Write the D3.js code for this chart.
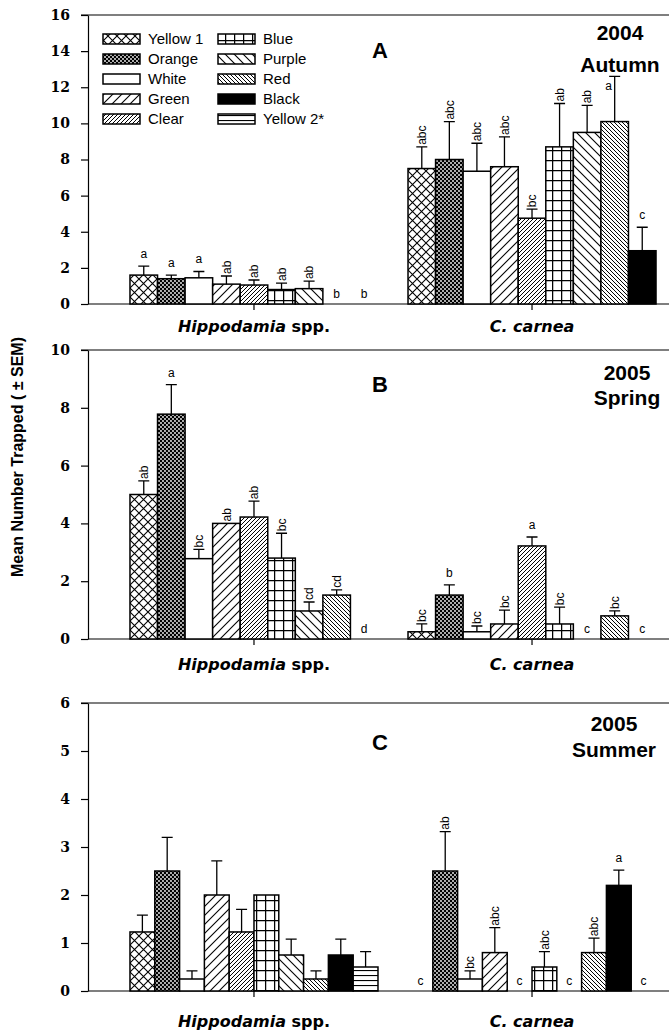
<!DOCTYPE html>
<html>
<head>
<meta charset="utf-8">
<script src="https://cdn.jsdelivr.net/npm/d3@7"></script>
<style>
body{margin:0;background:#fff;}
</style>
</head>
<body>
<div id="plotarea"></div>
<script>
// trap colours, "Yellow 2*" was only used in summer 2005
var colors = ["Yellow 1","Orange","White","Green","Clear","Blue","Purple","Red","Black","Yellow 2*"];
var groups = ["Hippodamia spp.","C. carnea"];

// A - 2004 autumn (9 colours)
var autumnHippoMean = [1.6,1.4,1.45,1.1,1.05,0.8,0.85,0,0];
var autumnHippoSem = [0.5,0.2,0.35,0.45,0.28,0.36,0.42,0,0];
var autumnHippoLetters = ["a","a","a","ab","ab","ab","ab","b","b"];
var autumnCarneaMean = [7.5,8.0,7.35,7.6,4.75,8.7,9.5,10.1,2.95];
var autumnCarneaSem = [1.2,2.1,1.55,1.65,0.5,2.4,1.5,2.5,1.3];
var autumnCarneaLetters = ["abc","abc","abc","abc","bc","ab","ab","a","c"];

// B - 2005 spring (9 colours)
var springHippoMean = [5.0,7.78,2.78,4.0,4.22,2.8,0.97,1.52,0];
var springHippoSem = [0.47,1.02,0.32,0,0.55,0.86,0.31,0.18,0];
var springHippoLetters = ["ab","a","bc","ab","ab","bc","cd","cd","d"];
var springCarneaMean = [0.25,1.52,0.25,0.52,3.22,0.52,0,0.8,0];
var springCarneaSem = [0.27,0.35,0.2,0.48,0.31,0.58,0,0.17,0];
var springCarneaLetters = ["bc","b","bc","bc","a","bc","c","bc","c"];

// C - 2005 summer (10 colours)
var summerHippoMean = [1.23,2.5,0.25,2.0,1.23,2.0,0.75,0.25,0.75,0.5];
var summerHippoSem = [0.35,0.7,0.17,0.71,0.47,0,0.33,0.17,0.33,0.32];
var summerHippoLetters = ["","","","","","","","","",""];
var summerCarneaMean = [0,2.5,0.25,0.8,0,0.5,0,0.8,2.2,0];
var summerCarneaSem = [0,0.82,0.17,0.52,0,0.32,0,0.3,0.32,0];
var summerCarneaLetters = ["c","ab","bc","abc","c","abc","c","abc","a","c"];

var width = 669, height = 1036;
var axisX = 88;
var sans = "'Liberation Sans', Arial, sans-serif";

var svg = d3.select("#plotarea").append("svg")
    .attr("width", width)
    .attr("height", height);
var defs = svg.append("defs");

// hatch fills, one per trap colour
function addPattern(id, w, h, bg, draw){
  var pat = defs.append("pattern").attr("id", id)
    .attr("patternUnits","userSpaceOnUse")
    .attr("width", w).attr("height", h);
  pat.append("rect").attr("width", w).attr("height", h).attr("fill", bg);
  draw(pat);
}
addPattern("p0", 9, 9, "#fff", function(p){
  p.append("path").attr("d","M0,0L9,9M9,0L0,9").attr("stroke","#000").attr("stroke-width",1.1);
});
addPattern("p1", 4, 4, "#000", function(p){
  p.append("circle").attr("cx",1).attr("cy",1).attr("r",0.9).attr("fill","#fff");
  p.append("circle").attr("cx",3).attr("cy",3).attr("r",0.9).attr("fill","#fff");
});
addPattern("p3", 9, 9, "#fff", function(p){
  p.append("path").attr("d","M0,9L9,0M-2,2L2,-2M7,11L11,7").attr("stroke","#000").attr("stroke-width",1.1);
});
addPattern("p4", 4, 4, "#fff", function(p){
  p.append("path").attr("d","M0,4L4,0M-1,1L1,-1M3,5L5,3").attr("stroke","#000").attr("stroke-width",1);
});
addPattern("p5", 9, 10, "#fff", function(p){
  p.append("path").attr("d","M0.5,0V10M0,0.5H9").attr("stroke","#000").attr("stroke-width",1.5);
});
addPattern("p6", 9, 9, "#fff", function(p){
  p.append("path").attr("d","M0,0L9,9M-2,7L2,11M7,-2L11,2").attr("stroke","#000").attr("stroke-width",1.1);
});
addPattern("p7", 4, 4, "#fff", function(p){
  p.append("path").attr("d","M0,0L4,4M-1,3L1,5M3,-1L5,1").attr("stroke","#000").attr("stroke-width",1);
});
addPattern("p9", 5, 5, "#fff", function(p){
  p.append("path").attr("d","M0,0.5H5").attr("stroke","#000").attr("stroke-width",1.2);
});
var fills = ["url(#p0)","url(#p1)","#fff","url(#p3)","url(#p4)","url(#p5)","url(#p6)","url(#p7)","#000","url(#p9)"];

var panels = [
  {letter:"A", season:["2004","Autumn"], top:15, bottom:304, max:16, step:2, n:9,
   mean:[autumnHippoMean, autumnCarneaMean], sem:[autumnHippoSem, autumnCarneaSem],
   letters:[autumnHippoLetters, autumnCarneaLetters], labelY:332, letterY:58, seasonY:[40,72], seasonX:620},
  {letter:"B", season:["2005","Spring"], top:350, bottom:639, max:10, step:2, n:9,
   mean:[springHippoMean, springCarneaMean], sem:[springHippoSem, springCarneaSem],
   letters:[springHippoLetters, springCarneaLetters], labelY:670, letterY:392, seasonY:[380,405], seasonX:627},
  {letter:"C", season:["2005","Summer"], top:703, bottom:991, max:6, step:1, n:10,
   mean:[summerHippoMean, summerCarneaMean], sem:[summerHippoSem, summerCarneaSem],
   letters:[summerHippoLetters, summerCarneaLetters], labelY:1027, letterY:750, seasonY:[731,757], seasonX:614}
];

// group positions along x
var x_group = d3.scaleBand().domain(groups)
  .range([axisX, 698])
  .paddingInner(0.108)
  .paddingOuter(0.151);

function letterText(sel){
  return sel.attr("font-family", sans).attr("font-size",12).attr("fill","#000");
}

panels.forEach(function(p){
  var y = d3.scaleLinear().domain([0, p.max]).range([p.bottom, p.top]);
  var cols = colors.slice(0, p.n);
  var x_bar = d3.scaleBand().domain(cols).range([0, x_group.bandwidth()]);
  var g = svg.append("g");
  // area taken by the season text, letters are kept out of it
  var seasonBox = {x0:p.seasonX-45, x1:p.seasonX+45, y0:p.seasonY[0]-17, y1:p.seasonY[1]};

  // y axis
  var yAx = g.append("g")
    .attr("transform","translate(" + axisX + ",0)")
    .call(d3.axisLeft(y)
      .tickValues(d3.range(0, p.max + p.step/2, p.step))
      .tickSize(7).tickSizeOuter(0).tickPadding(11)
      .tickFormat(d3.format("d")));
  yAx.selectAll("path,line").attr("stroke","#000").attr("stroke-width",1.2);
  yAx.selectAll("text")
    .attr("font-family","'DejaVu Serif', serif")
    .attr("font-weight","bold")
    .attr("font-size",14)
    .attr("fill","#000");

  // frame top + baseline
  g.append("line").attr("x1",axisX-7).attr("x2",width)
    .attr("y1",y(p.max)).attr("y2",y(p.max))
    .attr("stroke","#000").attr("stroke-width",1.2);
  g.append("line").attr("x1",axisX).attr("x2",width)
    .attr("y1",y(0)).attr("y2",y(0))
    .attr("stroke","#000").attr("stroke-width",1.2);

  // group tick marks
  var xAx = g.append("g")
    .attr("transform","translate(0," + y(0) + ")")
    .call(d3.axisBottom(x_group).tickSize(6).tickSizeOuter(0).tickFormat(""));
  xAx.select(".domain").remove();
  xAx.selectAll("line").attr("stroke","#000").attr("stroke-width",1.2);

  groups.forEach(function(grp, gi){
    var arr = [];
    cols.forEach(function(c, i){
      arr.push({color:c, idx:i, value:p.mean[gi][i], sem:p.sem[gi][i], letter:p.letters[gi][i]});
    });
    var gx = x_group(grp);
    var gg = g.append("g").attr("transform","translate(" + gx + ",0)");
    var bw = x_bar.bandwidth();

    var withBar = arr.filter(function(d){ return d.value > 0; });
    gg.selectAll(".bar")
      .data(withBar)
      .enter().append("rect")
      .attr("class","bar")
      .attr("x", function(d){ return x_bar(d.color); })
      .attr("y", function(d){ return y(d.value); })
      .attr("width", bw)
      .attr("height", function(d){ return y(0) - y(d.value); })
      .attr("fill", function(d){ return fills[d.idx]; })
      .attr("stroke","#000")
      .attr("stroke-width",1.5);

    // upper error bars
    var withErr = withBar.filter(function(d){ return d.sem > 0; });
    gg.selectAll(".err")
      .data(withErr)
      .enter().append("path")
      .attr("class","err")
      .attr("d", function(d){
        var cx = x_bar(d.color) + bw/2;
        var t = y(d.value + d.sem);
        return "M" + cx + "," + y(d.value) + "V" + t + "M" + (cx-5.5) + "," + t + "H" + (cx+5.5);
      })
      .attr("stroke","#000").attr("stroke-width",1.3).attr("fill","none");

    // significance letters
    arr.forEach(function(d){
      if (!d.letter) return;
      var cx = x_bar(d.color) + bw/2;
      if (d.value === 0) {
        letterText(gg.append("text")).attr("x", cx).attr("y", y(0) - 6)
          .attr("text-anchor","middle").text(d.letter);
        return;
      }
      var t = y(d.value + d.sem);
      if (d.letter.length === 1) {
        var lx = cx, ly = t - 8;
        var ax = gx + cx;
        if (ax > seasonBox.x0 && ax < seasonBox.x1 && ly - 9 < seasonBox.y1 && ly > seasonBox.y0) {
          // no room above the cap: tuck it beside the error bar
          lx = cx - 6; ly = t + 14;
        }
        letterText(gg.append("text")).attr("x", lx).attr("y", ly)
          .attr("text-anchor","middle").text(d.letter);
      } else {
        letterText(gg.append("text"))
          .attr("transform","translate(" + cx + "," + (t - 2) + ") rotate(-90)")
          .attr("dy","0.35em").text(d.letter);
      }
    });

    // group label under the axis
    var lab = g.append("text")
      .attr("x", gx + x_group.bandwidth()/2)
      .attr("y", p.labelY)
      .attr("text-anchor","middle")
      .attr("font-family","'DejaVu Sans', sans-serif")
      .attr("font-weight","bold")
      .attr("font-size",16);
    if (gi === 0) {
      lab.append("tspan").attr("font-style","italic").text("Hippodamia");
      lab.append("tspan").text(" spp.");
    } else {
      lab.append("tspan").attr("font-style","italic").text("C. carnea");
    }
  });

  // panel letter and season
  g.append("text").attr("x",380).attr("y",p.letterY)
    .attr("text-anchor","middle")
    .attr("font-family", sans)
    .attr("font-weight","bold").attr("font-size",22).text(p.letter);
  p.season.forEach(function(s, k){
    g.append("text").attr("x",p.seasonX).attr("y",p.seasonY[k])
      .attr("text-anchor","middle")
      .attr("font-family", sans)
      .attr("font-weight","bold").attr("font-size",21).text(s);
  });
});

// legend in panel A
var legend = svg.append("g");
colors.forEach(function(c, i){
  var col = Math.floor(i/5), row = i % 5;
  var lx = 103 + col*115, ly = 34 + row*20;
  legend.append("rect").attr("x",lx).attr("y",ly)
    .attr("width",37).attr("height",10)
    .attr("fill",fills[i]).attr("stroke","#000").attr("stroke-width",1.5);
  legend.append("text").attr("x",lx+45).attr("y",ly+10)
    .attr("font-family", sans)
    .attr("font-size",15).text(c);
});

// y title
svg.append("text")
  .attr("transform","translate(23,457) rotate(-90)")
  .attr("text-anchor","middle")
  .attr("font-family", sans)
  .attr("font-weight","bold").attr("font-size",16)
  .text("Mean Number Trapped ( \u00b1 SEM)");
</script>
</body>
</html>
